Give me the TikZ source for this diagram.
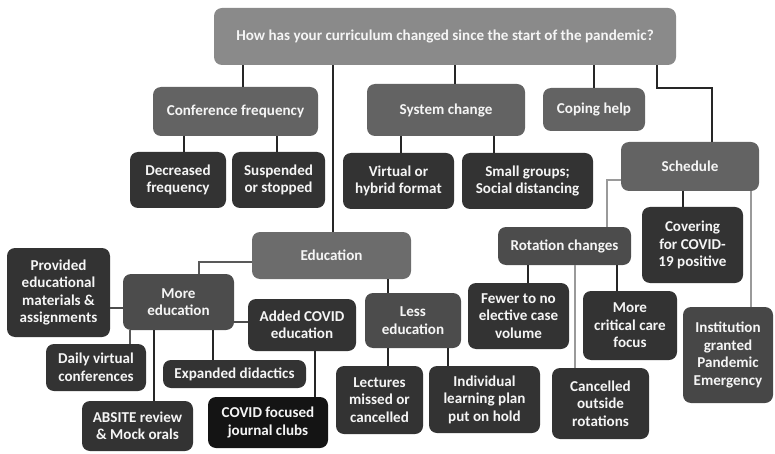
\documentclass[tikz,border=0pt]{standalone}
\usepackage{fontspec}
\setmainfont{Carlito}
\usetikzlibrary{calc}
\definecolor{croot}{HTML}{8A8A8A}
\definecolor{clvl}{HTML}{636363}
\definecolor{cedu}{HTML}{6C6C6C}
\definecolor{cmid}{HTML}{4C4C4C}
\definecolor{cleaf}{HTML}{333333}
\definecolor{cblack}{HTML}{141414}
\definecolor{clight}{HTML}{9A9A9A}
\tikzset{
  box/.style={rectangle, rounded corners=8pt, inner sep=0pt, text=white!96!black, align=center,
    font=\fontsize{15.1}{17.5}\selectfont\bfseries},
  rootbox/.style={box, fill=croot},
  lvlbox/.style={box, fill=clvl},
  midbox/.style={box, fill=cmid},
  leafbox/.style={box, fill=cleaf},
  conn/.style={line width=1.1pt, draw=black!85},
  lconn/.style={line width=1.1pt, draw=clight},
}
\begin{document}
\begin{tikzpicture}[x=1pt, y=-1pt]
\useasboundingbox (0,0) rectangle (775,454);
% nodes
\node[rootbox, minimum width=462, minimum height=57] (root) at (445,36.5) {How has your curriculum changed since the start of the pandemic?};
\node[lvlbox, minimum width=165, minimum height=49] (conf) at (235.5,111.5) {Conference frequency};
\node[leafbox, minimum width=96, minimum height=56] (dec) at (178,180) {Decreased\\frequency};
\node[leafbox, minimum width=93, minimum height=56] (susp) at (278.5,180) {Suspended\\or stopped};
\node[lvlbox, minimum width=158, minimum height=52] (sys) at (446,110) {System change};
\node[leafbox, minimum width=111, minimum height=56] (virt) at (398.5,181) {Virtual or\\hybrid format};
\node[leafbox, minimum width=131, minimum height=56] (small) at (527.5,181) {Small groups;\\Social distancing};
\node[lvlbox, minimum width=102, minimum height=43] (coping) at (594,109.5) {Coping help};
\node[lvlbox, minimum width=138, minimum height=49] (sched) at (690,166.5) {Schedule};
\node[leafbox, minimum width=101, minimum height=76] (cover) at (692.5,245) {Covering\\for COVID-\\19 positive};
\node[midbox, fill=black!72, minimum width=90, minimum height=96] (inst) at (728,355) {Institution\\granted\\Pandemic\\Emergency};
\node[midbox, minimum width=133, minimum height=38] (rot) at (564.5,246) {Rotation changes};
\node[leafbox, minimum width=101, minimum height=66] (fewer) at (518.5,316) {Fewer to no\\elective case\\volume};
\node[leafbox, minimum width=94, minimum height=69] (crit) at (630,325.5) {More\\critical care\\focus};
\node[leafbox, minimum width=97, minimum height=71] (canc) at (600.5,403.5) {Cancelled\\outside\\rotations};
\node[box, fill=cedu, minimum width=159, minimum height=47] (edu) at (331.5,255.5) {Education};
\node[midbox, minimum width=96, minimum height=55] (less) at (413,320.5) {Less\\education};
\node[leafbox, minimum width=87, minimum height=68] (lect) at (379.5,400) {Lectures\\missed or\\cancelled};
\node[leafbox, minimum width=111, minimum height=67] (indiv) at (484.5,399.5) {Individual\\learning plan\\put on hold};
\node[midbox, minimum width=111, minimum height=56] (more) at (178.5,302) {More\\education};
\node[leafbox, minimum width=103, minimum height=89] (prov) at (58.5,292.5) {Provided\\educational\\materials \&\\assignments};
\node[leafbox, minimum width=100, minimum height=47] (daily) at (96,367.5) {Daily virtual\\conferences};
\node[leafbox, minimum width=111, minimum height=50] (absite) at (137.5,426) {ABSITE review\\\& Mock orals};
\node[leafbox, minimum width=143, minimum height=28] (expd) at (234.5,374) {Expanded didactics};
\node[leafbox, minimum width=108, minimum height=52] (added) at (302,325) {Added COVID\\education};
\node[box, fill=cblack, minimum width=120, minimum height=51] (jour) at (268,422.5) {COVID focused\\journal clubs};
% x positions of connectors
\coordinate (xa) at (243,0);
\coordinate (xb) at (333,0);
\coordinate (xc) at (455,0);
\coordinate (xd) at (594,0);
\coordinate (xe1) at (657,0);
\coordinate (xe2) at (712,0);
\coordinate (xf) at (184,0);
\coordinate (xg) at (277,0);
\coordinate (xh) at (401,0);
\coordinate (xi) at (494,0);
\coordinate (xj) at (607,0);
\coordinate (xk) at (683,0);
\coordinate (xl) at (751,0);
\coordinate (xm) at (528,0);
\coordinate (xn) at (575,0);
\coordinate (xo) at (617,0);
\coordinate (xp) at (199,0);
\coordinate (xq) at (388,0);
\coordinate (xr) at (448,0);
\coordinate (xs) at (130,0);
\coordinate (xt) at (154,0);
\coordinate (xu) at (213,0);
\coordinate (xv) at (315,0);
\coordinate (ya) at (0,88);
\coordinate (yb) at (0,180);
\coordinate (yc) at (0,262);
\coordinate (yd) at (0,308);
\coordinate (ye) at (0,322);
% connectors
\draw[conn] (root.south -| xa) -- (conf.north -| xa);
\draw[conn] (root.south -| xb) -- (edu.north -| xb);
\draw[conn] (root.south -| xc) -- (sys.north -| xc);
\draw[conn] (root.south -| xd) -- (coping.north -| xd);
\draw[conn] (root.south -| xe1) -- (xe1 |- ya) -- (xe2 |- ya) -- (sched.north -| xe2);
\draw[conn] (conf.south -| xf) -- (dec.north -| xf);
\draw[conn] (conf.south -| xg) -- (susp.north -| xg);
\draw[conn] (sys.south -| xh) -- (virt.north -| xh);
\draw[conn] (sys.south -| xi) -- (small.north -| xi);
\draw[lconn] (sched.west |- yb) -- (xj |- yb) -- (rot.north -| xj);
\draw[conn] (sched.south -| xk) -- (cover.north -| xk);
\draw[lconn] (sched.south -| xl) -- (inst.north -| xl);
\draw[conn] (rot.south -| xm) -- (fewer.north -| xm);
\draw[lconn] (rot.south -| xn) -- (canc.north -| xn);
\draw[conn] (rot.south -| xo) -- (crit.north -| xo);
\draw[conn, draw=black!65] (edu.west |- yc) -- (xp |- yc) -- (more.north -| xp);
\draw[conn] (edu.south -| xq) -- (less.north -| xq);
\draw[conn] (less.south -| xq) -- (lect.north -| xq);
\draw[conn] (less.south -| xr) -- (indiv.north -| xr);
\draw[conn, draw=black!70] (more.west |- yd) -- (prov.east |- yd);
\draw[conn, draw=black!65] (more.south -| xs) -- (daily.north -| xs);
\draw[conn] (more.south -| xt) -- (absite.north -| xt);
\draw[conn] (more.south -| xu) -- (expd.north -| xu);
\draw[conn, draw=black!70] (more.east |- ye) -- (added.west |- ye);
\draw[conn] (added.south -| xv) -- (jour.north -| xv);
\end{tikzpicture}
\end{document}
